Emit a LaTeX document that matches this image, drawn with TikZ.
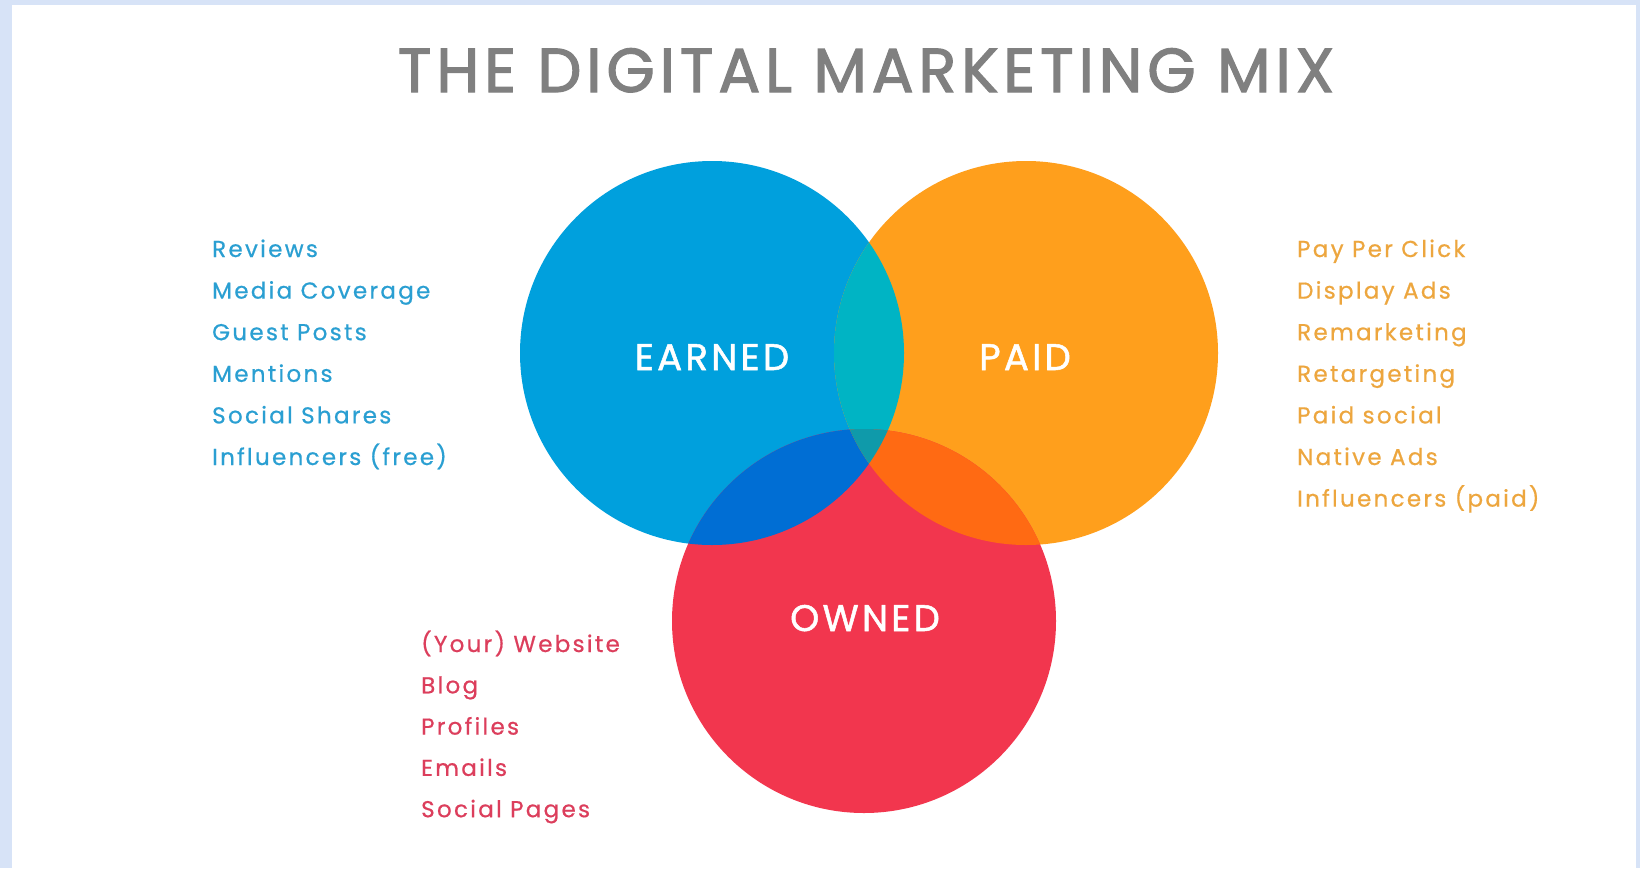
\documentclass[tikz,border=0pt]{standalone}
\usepackage{fontspec}
\setmainfont{Poppins}
\newfontfamily\titlefont{Poppins}[FakeBold=2, LetterSpace=8]
\newfontfamily\circlefont{Poppins}[FakeBold=1.4, LetterSpace=9]
\newfontfamily\listfont{Poppins}[FakeBold=0.6, LetterSpace=10]

\definecolor{frame}{HTML}{D7E3F7}
\definecolor{earnedblue}{HTML}{00A0DD}
\definecolor{paidorange}{HTML}{FF9F1C}
\definecolor{ownedred}{HTML}{F2364E}
\definecolor{earnpaid}{HTML}{00B4C4}
\definecolor{earnown}{HTML}{006ED4}
\definecolor{paidown}{HTML}{FF6A13}
\definecolor{allthree}{HTML}{0F9AAA}
\definecolor{titlegray}{HTML}{808080}
\definecolor{earnedtext}{HTML}{2A9FD2}
\definecolor{paidtext}{HTML}{EDA63E}
\definecolor{ownedtext}{HTML}{DC3E5C}

\tikzset{
  listitem/.style={anchor=base west, inner sep=0pt, font=\listfont\fontsize{23}{23}\selectfont},
  circlelabel/.style={anchor=base, inner sep=0pt, text=white, font=\circlefont\fontsize{37}{37}\selectfont},
}

\begin{document}
\begin{tikzpicture}[x=1pt, y=-1pt]
  % page frame
  \useasboundingbox (0,0) rectangle (1640,868);
  \fill[frame] (0,0) rectangle (1640,868);
  \fill[white] (12,5) rectangle (1636,868);

  % title
  \node[anchor=base, inner sep=0pt, text=titlegray,
        font=\titlefont\fontsize{62}{62}\selectfont] (title) at (866,92)
        {THE DIGITAL MARKETING MIX};

  % the three circles
  \def\earnedpath{(712,353) circle[radius=192]}
  \def\paidpath{(1026,353) circle[radius=192]}
  \def\ownedpath{(864,621) circle[radius=192]}
  \fill[earnedblue] \earnedpath;
  \fill[paidorange] \paidpath;
  \fill[ownedred] \ownedpath;

  % pairwise overlaps
  \begin{scope}
    \clip \earnedpath;
    \fill[earnpaid] \paidpath;
    \fill[earnown] \ownedpath;
  \end{scope}
  \begin{scope}
    \clip \paidpath;
    \fill[paidown] \ownedpath;
  \end{scope}
  % centre where all three meet
  \begin{scope}
    \clip \earnedpath;
    \clip \paidpath;
    \fill[allthree] \ownedpath;
  \end{scope}

  % circle labels
  \node[circlelabel] (earned) at (712,370) {EARNED};
  \node[circlelabel] (paid) at (1025,370) {PAID};
  \node[circlelabel] (owned) at (865,631) {OWNED};

  % earned media
  \foreach \txt [count=\i from 0] in {Reviews, Media Coverage, Guest Posts,
      Mentions, Social Shares, Influencers (free)}
    \node[listitem, text=earnedtext] (earn\i) at (212,257+41.6*\i) {\txt};

  % paid media
  \foreach \txt [count=\i from 0] in {Pay Per Click, Display Ads, Remarketing,
      Retargeting, Paid social, Native Ads, Influencers (paid)}
    \node[listitem, text=paidtext] (paid\i) at (1297,257+41.6*\i) {\txt};

  % owned media
  \foreach \txt [count=\i from 0] in {(Your) Website, Blog, Profiles,
      Emails, Social Pages}
    \node[listitem, text=ownedtext] (own\i) at (421,652+41.3*\i) {\txt};
\end{tikzpicture}
\end{document}
